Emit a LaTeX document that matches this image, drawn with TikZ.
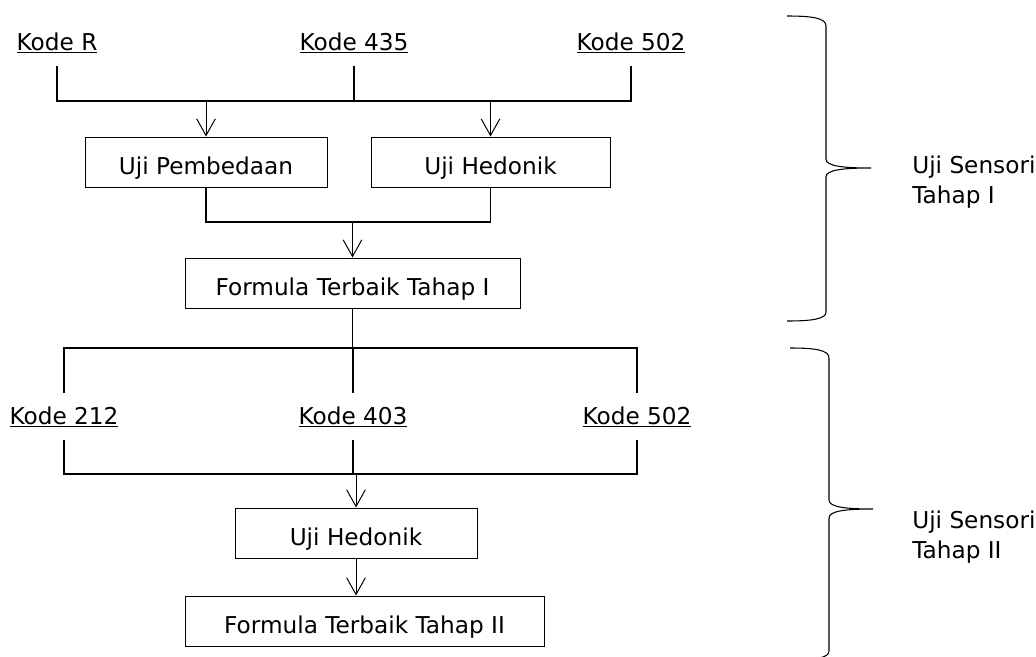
\documentclass[tikz,border=0pt]{standalone}
\usepackage{fontspec}
\setmainfont{DejaVu Sans}
\usetikzlibrary{arrows.meta}

\begin{document}
\begin{tikzpicture}[
            x = 0.75pt, y = -0.75pt, % one unit is one pixel, y runs down
            font = \fontsize{17.4pt}{22.5pt}\selectfont,
            > = {Straight Barb[length=12.5pt, width=14pt]}, % open arrow head
            box/.style = {shape=rectangle, draw=black, line width=0.75pt,
                minimum height=37.5pt, inner sep=0pt, text height=18pt, text depth=0pt},
            kode/.style = {inner sep=0pt, outer ysep=10pt, anchor=base},
            bus/.style = {line width=1pt},
            flow/.style = {->, line width=0.75pt},
            curly/.style = {line width=0.8pt},
            note/.style = {align=left, inner sep=0pt, anchor=base west}
        ]
\useasboundingbox (0,0) rectangle (1036,657);

% tahap I
\node[kode] (kR) at (57,50) {\underline{Kode R}};
\node[kode] (k435) at (354,50) {\underline{Kode 435}};
\node[kode] (k502a) at (631,50) {\underline{Kode 502}};

\node[box, minimum width=181.5pt] (ujiP) at (206,162) {Uji Pembedaan};
\node[box, minimum width=179.25pt] (ujiH) at (490.5,162) {Uji Hedonik};
\node[box, minimum width=251.25pt] (best1) at (352.5,283) {Formula Terbaik Tahap I};

\coordinate (busA) at (0,101);
\coordinate (busB) at (0,222);
\coordinate (busC) at (0,348);
\coordinate (busD) at (0,474);

\draw[bus] (kR.south) -- (kR.south |- busA) -- (k502a.south |- busA) -- (k502a.south);
\draw[bus] (k435.south) -- (k435.south |- busA);
\path[flow] (ujiP.north |- busA) edge (ujiP.north);
\path[flow] (ujiH.north |- busA) edge (ujiH.north);

\draw[bus] (ujiP.south) -- (ujiP.south |- busB) -- (ujiH.south |- busB) -- (ujiH.south);
\path[flow] (best1.north |- busB) edge (best1.north);

% tahap II
\node[kode] (k212) at (64,424) {\underline{Kode 212}};
\node[kode] (k403) at (353,424) {\underline{Kode 403}};
\node[kode] (k502b) at (637,424) {\underline{Kode 502}};

\node[box, minimum width=181.5pt] (ujiH2) at (356,533) {Uji Hedonik};
\node[box, minimum width=269.25pt] (best2) at (364.5,621) {Formula Terbaik Tahap II};

\draw[bus] (best1.south) -- (best1.south |- busC);
\draw[bus] (k212.north) -- (k212.north |- busC) -- (k502b.north |- busC) -- (k502b.north);
\draw[bus] (k403.north) -- (k403.north |- busC);

\draw[bus] (k212.south) -- (k212.south |- busD) -- (k502b.south |- busD) -- (k502b.south);
\draw[bus] (k403.south) -- (k403.south |- busD);
\path[flow] (ujiH2.north |- busD) edge (ujiH2.north);
\path[flow] (ujiH2.south) edge (ujiH2.south |- best2.north);

% kurung kurawal
\draw[curly] (787,16) .. controls (812,16) and (826,18) .. (826,26) -- (826,159)
    .. controls (826,166) and (842,168) .. (871,168)
    .. controls (842,168) and (826,170) .. (826,177) -- (826,312)
    .. controls (826,319) and (812,321) .. (787,321);
\node[note] (sensori1) at (912,203) {Uji Sensori\\Tahap I};

\draw[curly] (790,348) .. controls (815,348) and (829,350) .. (829,358) -- (829,500)
    .. controls (829,507) and (845,509) .. (873,509)
    .. controls (845,509) and (829,511) .. (829,518) -- (829,651)
    .. controls (829,658) and (815,660) .. (790,660);
\node[note] (sensori2) at (912,558) {Uji Sensori\\Tahap II};

\end{tikzpicture}
\end{document}
